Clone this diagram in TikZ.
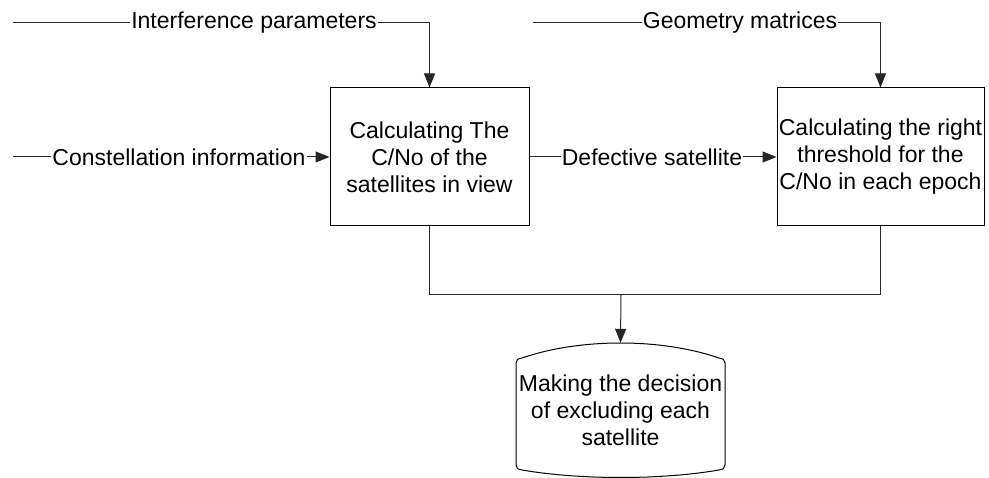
\documentclass[tikz,border=0pt]{standalone}
\usepackage{fontspec}
\setmainfont{Liberation Sans}
\usetikzlibrary{arrows.meta}
\begin{document}
\begin{tikzpicture}[x=1pt,y=-1pt,
  every node/.style={font=\fontsize{23}{27}\selectfont},
  procbox/.style={draw=black,line width=1pt,align=center,inner sep=0pt},
  lbl/.style={fill=white,inner xsep=1pt,inner ysep=0pt},
  conn/.style={draw=black!85,line width=1pt},
  arr/.style={conn,-{Triangle[length=14pt,width=11pt]}}]
\useasboundingbox (0,0) rectangle (989,478);
% boxes
\node[procbox,minimum width=199pt,minimum height=138pt] (calc) at (429.5,157) {Calculating The\\C/No of the\\satellites in view};
\node[procbox,minimum width=207pt,minimum height=138pt] (thr) at (880.5,157) {Calculating the right\\threshold for the\\C/No in each epoch};
\node[align=center,inner sep=0pt,minimum width=209pt,minimum height=134pt] (dec) at (620.5,410) {Making the decision\\of excluding each\\satellite};
% cylinder-like outline for the decision
\draw[line width=1pt] (516,363) -- (516,465) .. controls (516,468) and (518,469.5) .. (522,470)
  .. controls (580,480) and (661,480) .. (719,470)
  .. controls (723,469.5) and (725,468) .. (725,465) -- (725,363)
  .. controls (725,360) and (723,358.5) .. (719,358)
  .. controls (661,338) and (580,338) .. (522,358)
  .. controls (518,358.5) and (516,360) .. (516,363) -- cycle;
% free ends
\coordinate (ip) at (13,23);
\coordinate (gm) at (533,23);
\coordinate (ci) at (13,157);
\coordinate (jn) at (621,295);
% connectors
\draw[arr] (ip) -- (calc.north |- ip) -- (calc.north);
\node[lbl] (iplbl) at (254,23) {Interference parameters};
\draw[arr] (gm) -- (thr.north |- gm) -- (thr.north);
\node[lbl] (gmlbl) at (740,23) {Geometry matrices};
\draw[arr] (ci) -- (calc.west);
\node[lbl] (cilbl) at (179,157) {Constellation information};
\draw[arr] (calc.east) -- (thr.west);
\node[lbl] (dslbl) at (652,157) {Defective satellite};
\draw[conn] (calc.south) -- (calc.south |- jn) -- (thr.south |- jn) -- (thr.south);
\draw[arr] (jn) -- (dec.north);
\end{tikzpicture}
\end{document}
